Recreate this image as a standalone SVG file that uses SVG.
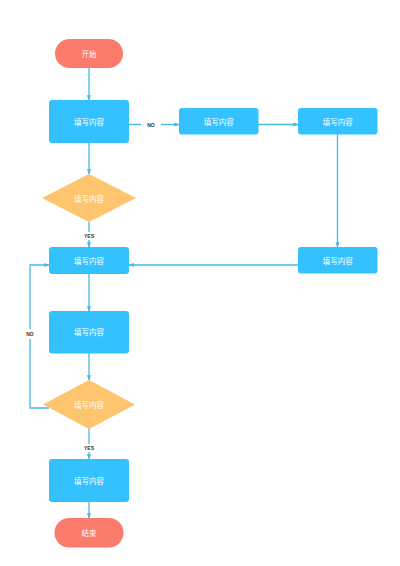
<svg xmlns="http://www.w3.org/2000/svg" width="400" height="566" viewBox="0 0 400 566">
<defs>
<style>
.term{fill:#FA7B6C;}
.proc{fill:#33C2FF;}
.dec{fill:#FEC46E;}
.t{fill:#ffffff;font-family:"Noto Sans CJK SC","Noto Sans",sans-serif;font-size:7.5px;text-anchor:middle;dominant-baseline:central;}
.lbl{fill:#333333;font-family:"Liberation Sans",Arial,sans-serif;font-size:5px;font-weight:bold;text-anchor:middle;dominant-baseline:central;}
.c{fill:none;stroke:#45B8EA;stroke-width:1.3;}
</style>
<marker id="ah" viewBox="0 0 10 10" refX="9" refY="5" markerWidth="4" markerHeight="4" orient="auto" markerUnits="strokeWidth">
<path d="M0,1 L10,5 L0,9 z" fill="#45B8EA"/>
</marker>
</defs>
<rect width="400" height="566" fill="#ffffff"/>
<g id="connectors">
<line class="c" x1="89" y1="68" x2="89" y2="100" marker-end="url(#ah)"/>
<line class="c" x1="129" y1="124.5" x2="141" y2="124.5"/>
<line class="c" x1="161" y1="124.5" x2="179" y2="124.5" marker-end="url(#ah)"/>
<line class="c" x1="89" y1="143" x2="89" y2="174" marker-end="url(#ah)"/>
<line class="c" x1="89" y1="222" x2="89" y2="232"/>
<line class="c" x1="89" y1="240" x2="89" y2="247" marker-end="url(#ah)"/>
<line class="c" x1="258" y1="124.5" x2="298" y2="124.5" marker-end="url(#ah)"/>
<line class="c" x1="337.5" y1="134" x2="337.5" y2="247" marker-end="url(#ah)"/>
<line class="c" x1="298" y1="265" x2="129" y2="265" marker-end="url(#ah)"/>
<line class="c" x1="89" y1="274" x2="89" y2="311" marker-end="url(#ah)"/>
<line class="c" x1="89" y1="353" x2="89" y2="380" marker-end="url(#ah)"/>
<polyline class="c" points="49,408 30,408 30,339"/>
<polyline class="c" points="30,329 30,265 49,265" marker-end="url(#ah)"/>
<line class="c" x1="89" y1="428" x2="89" y2="444"/>
<line class="c" x1="89" y1="452" x2="89" y2="459" marker-end="url(#ah)"/>
<line class="c" x1="89" y1="502" x2="89" y2="518" marker-end="url(#ah)"/>
<text class="lbl" x="151" y="124.5">NO</text>
<text class="lbl" x="89" y="236">YES</text>
<text class="lbl" x="30" y="334">NO</text>
<text class="lbl" x="89" y="448">YES</text>
</g>
<g id="start">
<rect class="term" x="55" y="39" width="68" height="29" rx="14.5"/>
<text class="t" x="89" y="53.5">开始</text>
</g>
<g id="box1">
<rect class="proc" x="49" y="100" width="80" height="43" rx="3"/>
<text class="t" x="89" y="121.5">填写内容</text>
</g>
<g id="dec1">
<polygon class="dec" points="89,174 136,198 89,222 42,198"/>
<text class="t" x="89" y="198">填写内容</text>
</g>
<g id="box2">
<rect class="proc" x="179" y="108" width="79.5" height="26.5" rx="3"/>
<text class="t" x="218.7" y="121.2">填写内容</text>
</g>
<g id="box3">
<rect class="proc" x="298" y="108" width="79.5" height="26.5" rx="3"/>
<text class="t" x="337.7" y="121.2">填写内容</text>
</g>
<g id="box4">
<rect class="proc" x="298" y="247" width="79.5" height="26.5" rx="3"/>
<text class="t" x="337.7" y="260.2">填写内容</text>
</g>
<g id="box5">
<rect class="proc" x="49" y="247" width="80" height="27" rx="3"/>
<text class="t" x="89" y="260.5">填写内容</text>
</g>
<g id="box6">
<rect class="proc" x="49" y="311" width="80" height="42.5" rx="3"/>
<text class="t" x="89" y="331">填写内容</text>
</g>
<g id="dec2">
<polygon class="dec" points="89,380 135,404.5 89,429 43,404.5"/>
<text class="t" x="89" y="404.5">填写内容</text>
</g>
<g id="box7">
<rect class="proc" x="49" y="459" width="80" height="43" rx="3"/>
<text class="t" x="89" y="480">填写内容</text>
</g>
<g id="end">
<rect class="term" x="54.5" y="518" width="69" height="29.5" rx="14.75"/>
<text class="t" x="89" y="532.7">结束</text>
</g>
</svg>
